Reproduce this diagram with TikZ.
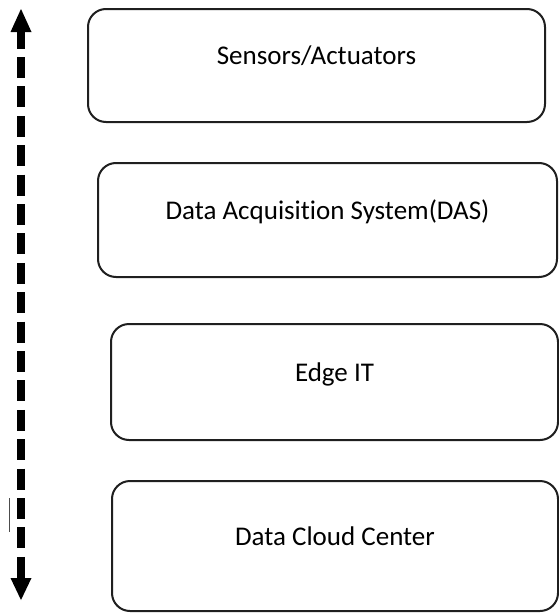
\documentclass[tikz,border=0pt]{standalone}
\usepackage{fontspec}
\setmainfont{Carlito}[Ligatures=NoCommon]
\begin{document}
\begin{tikzpicture}[x=1pt,y=-1pt,
  layer/.style={draw=black!88, line width=2pt, rounded corners=18pt,
    fill=white, inner sep=0pt, text height=0pt, text depth=2pt,
    font=\fontsize{27}{31}\selectfont, text=black},
  shaft/.style={line width=7.5pt, dash pattern=on 21pt off 8.4pt, black},
  tip/.style={fill=black}
]
\useasboundingbox (0,0) rectangle (559,613);

% the four layers, top to bottom
\node[layer, minimum width=457pt, minimum height=113pt] (sa)  at (316.5,65.5) {Sensors/Actuators};
\node[layer, minimum width=459pt, minimum height=114pt] (das) at (327.5,220) {Data Acquisition System(DAS)};
\node[layer, minimum width=447pt, minimum height=116pt] (edge) at (334.5,382) {Edge IT};
\node[layer, minimum width=446pt, minimum height=130pt] (cloud) at (335,546) {Data Cloud Center};

% double-headed dashed arrow along the left side
\coordinate (atop) at (21,9);
\coordinate (abot) at (21,600);
\coordinate (stop) at (21,27.6);
\coordinate (sbot) at (21,578);
\draw[shaft] (stop) -- (sbot);
\fill[tip] (atop) -- ++(-10.5,23) -- ++(21,0) -- cycle;
\fill[tip] (abot) -- ++(-10.5,-22) -- ++(21,0) -- cycle;

% short thin mark beside the arrow
\coordinate (m1) at (9,498);
\coordinate (m2) at (9,532);
\draw[line width=1pt, black!70] (m1) -- (m2);
\end{tikzpicture}
\end{document}
